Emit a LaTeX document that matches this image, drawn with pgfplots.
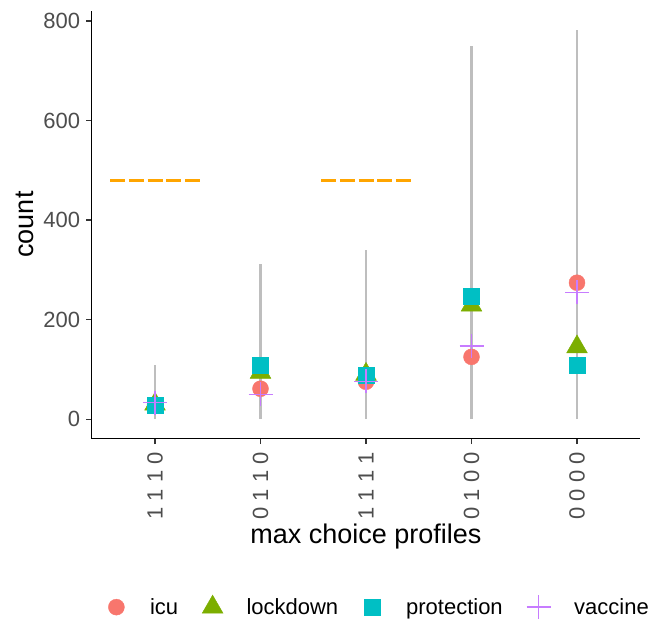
\documentclass[border=0pt]{standalone}
\usepackage{fontspec}
\setmainfont{Liberation Sans}
\usepackage{pgfplots}
\pgfplotsset{compat=1.18}

\definecolor{icu}{HTML}{F8766D}
\definecolor{lockdown}{HTML}{7CAE00}
\definecolor{protection}{HTML}{00BFC4}
\definecolor{vaccine}{HTML}{C77CFF}
\definecolor{ruleorange}{HTML}{FFA500}
\definecolor{stem}{HTML}{BEBEBE}
\definecolor{ticktext}{HTML}{4D4D4D}

\begin{document}
\begin{tikzpicture}
\useasboundingbox (-91.7pt,-180.5pt) rectangle (556.3pt,438.5pt);
\begin{axis}[
  scale only axis, width=548.6pt, height=428pt,
  at={(0pt,0pt)}, anchor=south west,
  xmin=0.4, xmax=5.6, ymin=-39, ymax=821,
  clip=false,
  axis x line*=bottom, axis y line*=left,
  axis line style={-, line width=1.2pt, black},
  every outer x axis line/.append style={-},
  every outer y axis line/.append style={-},
  xtick={1,2,3,4,5},
  xticklabels={1 1 1 0, 0 1 1 0, 1 1 1 1, 0 1 0 0, 0 0 0 0},
  ytick={0,200,400,600,800},
  tick align=outside, major tick length=5.5pt,
  every tick/.style={line width=1.1pt, black!80},
  /pgf/number format/assume math mode=true,
  tick label style={font=\fontsize{22}{22}\selectfont, text=ticktext},
  xticklabel style={rotate=90, anchor=east, inner sep=0pt},
  yticklabel style={anchor=east, inner sep=0pt},
  xticklabel shift=8pt, yticklabel shift=6pt,
  xlabel={max choice profiles}, ylabel={count},
  label style={font=\fontsize{27}{27}\selectfont},
  xlabel style={at={(axis description cs:0.5,-0.230)}, anchor=center},
  ylabel style={at={(axis description cs:-0.1216,0.5)}, anchor=center},
  legend style={at={(axis description cs:0.521,-0.394)}, anchor=center,
    draw=none, fill=none, legend columns=4,
    font=\fontsize{22}{22}\selectfont, inner sep=0pt,
    nodes={inner sep=0pt},
    /tikz/every odd column/.append style={column sep=23.5pt},
    /tikz/every even column/.append style={column sep=24pt}},
  legend cell align=left,
  legend image code/.code={\path (-10pt,0pt) (10pt,0pt);
    \draw[#1] plot coordinates {(0pt,0pt)};},
]

% grey ranges
\addplot[stem, line width=2.6pt, forget plot] coordinates {(1,0) (1,108)};
\addplot[stem, line width=2.6pt, forget plot] coordinates {(2,0) (2,312)};
\addplot[stem, line width=2.6pt, forget plot] coordinates {(3,0) (3,340)};
\addplot[stem, line width=2.6pt, forget plot] coordinates {(4,0) (4,750)};
\addplot[stem, line width=2.6pt, forget plot] coordinates {(5,0) (5,781)};

% dashed reference levels
\addplot[ruleorange, line width=3pt, dash pattern=on 15pt off 3.7pt, forget plot]
  coordinates {(0.575,480) (1.425,480)};
\addplot[ruleorange, line width=3pt, dash pattern=on 15pt off 3.7pt, forget plot]
  coordinates {(2.575,480) (3.425,480)};

\addplot[only marks, icu, mark=*, mark size=8pt, mark options={draw=none, fill=icu}]
  coordinates {(1,28) (2,61) (3,75) (4,125) (5,274)};
\addlegendentry{icu}
\addplot[only marks, lockdown, mark=triangle*, mark size=12pt, mark options={draw=none, fill=lockdown}]
  coordinates {(1,30) (2,94) (3,90) (4,229) (5,145)};
\addlegendentry{lockdown}
\addplot[only marks, protection, mark=square*, mark size=8pt, mark options={draw=none, fill=protection}]
  coordinates {(1,28) (2,108) (3,88) (4,247) (5,108)};
\addlegendentry{protection}
\addplot[only marks, vaccine, mark=+, mark size=12pt, mark options={line width=1.3pt}]
  coordinates {(1,33) (2,50) (3,76) (4,147) (5,255)};
\addlegendentry{vaccine}

\end{axis}
\end{tikzpicture}
\end{document}
